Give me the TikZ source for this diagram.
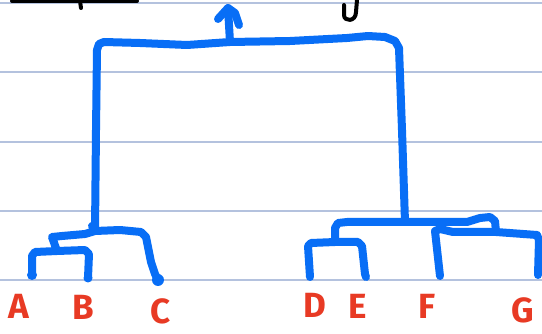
\documentclass[tikz,border=0pt]{standalone}
\usepackage{fontspec}
\setsansfont{Fira Sans}
\definecolor{inkblue}{RGB}{8,110,246}
\definecolor{inkred}{RGB}{232,58,36}
\definecolor{ruleblue}{RGB}{180,194,222}
\tikzset{
  rule/.style={draw=ruleblue, line width=1.2pt},
  branch/.style={draw=inkblue, line width=8pt, line cap=round, line join=round},
  leafdot/.style={fill=inkblue},
  leaflabel/.style={text=inkred, font=\sffamily\bfseries\fontsize{35}{35}\selectfont, inner sep=0pt},
  scribble/.style={draw=black, line width=4pt, line cap=round, line join=round},
}
\begin{document}
\begin{tikzpicture}[x=1pt, y=-1pt]
  \useasboundingbox (0,0) rectangle (542,334);
  \fill[white] (0,0) rectangle (542,334);

  % ruled paper
  \foreach \yy in {3,72,142,211,280}
    \draw[rule] (0,\yy) -- (542,\yy);

  % black pen marks at the top edge
  \draw[scribble] (12,1) -- (137,1);
  \draw[scribble] (80,1) -- (81,8);
  \draw[scribble] (344,5) -- (344,15) .. controls (344,22) and (356,22) .. (356,12) -- (357,0);

  % leaf ends and merge points
  \coordinate (a) at (32,275);
  \coordinate (b) at (88,278);
  \coordinate (c) at (158,280);
  \coordinate (d) at (310,277);
  \coordinate (e) at (366,277);
  \coordinate (f) at (440,276);
  \coordinate (g) at (538,275);
  \coordinate (ab) at (57,251);
  \coordinate (abc) at (95,231);
  \coordinate (de) at (335,242);
  \coordinate (fg) at (496,232);
  \coordinate (defg) at (405,222);
  \coordinate (root) at (230,42);
  \coordinate (tip) at (228,8);

  % leaf labels
  \node[leaflabel] (A) at (19,306) {A};
  \node[leaflabel] (B) at (83,307) {B};
  \node[leaflabel] (C) at (161,311) {C};
  \node[leaflabel] (D) at (315,305) {D};
  \node[leaflabel] (E) at (358,306) {E};
  \node[leaflabel] (F) at (427,306) {F};
  \node[leaflabel] (G) at (523,310) {G};

  % A + B
  \draw[branch] (a) -- (32,256) -- (35,252) -- (ab) -- (85,250) -- (89,254) -- (b);
  % (A,B) + C
  \draw[branch] (ab) -- (52,237) -- (62,236) -- (85,234) -- (abc) -- (120,230) -- (141,232)
    -- (146,237) -- (151,262) -- (155,274) -- (c);
  % D + E
  \draw[branch] (d) -- (308,246) -- (311,243) -- (de) -- (358,242) -- (362,246) -- (365,274) -- (e);
  % F + G
  \draw[branch] (f) -- (436,240) -- (435,231) -- (440,229) -- (453,232) -- (fg) -- (537,235)
    -- (539,240) -- (g);
  % (D,E) + (F,G)
  \draw[branch] (de) -- (335,228) -- (338,223) -- (347,222) -- (defg) -- (467,222) -- (480,218)
    -- (490,217) -- (495,221) -- (fg);
  % root bar joining both halves
  \draw[branch] (abc) -- (96,130) -- (97,50) -- (99,44) -- (104,42) -- (140,43) -- (187,45)
    -- (root) -- (290,41) -- (347,38) -- (368,36) -- (385,37) -- (395,41) -- (399,48)
    -- (402,130) -- (defg);
  \draw[branch] (92,226) -- (abc);
  % arrow out of the root
  \draw[branch] (root) -- (tip);
  \draw[branch] (218,19) -- (tip) -- (235,13) -- (239,25);

  % leaf dots
  \fill[leafdot] (a) circle (5);
  \fill[leafdot] (b) circle (4.5);
  \fill[leafdot] (c) circle (6);
\end{tikzpicture}
\end{document}
